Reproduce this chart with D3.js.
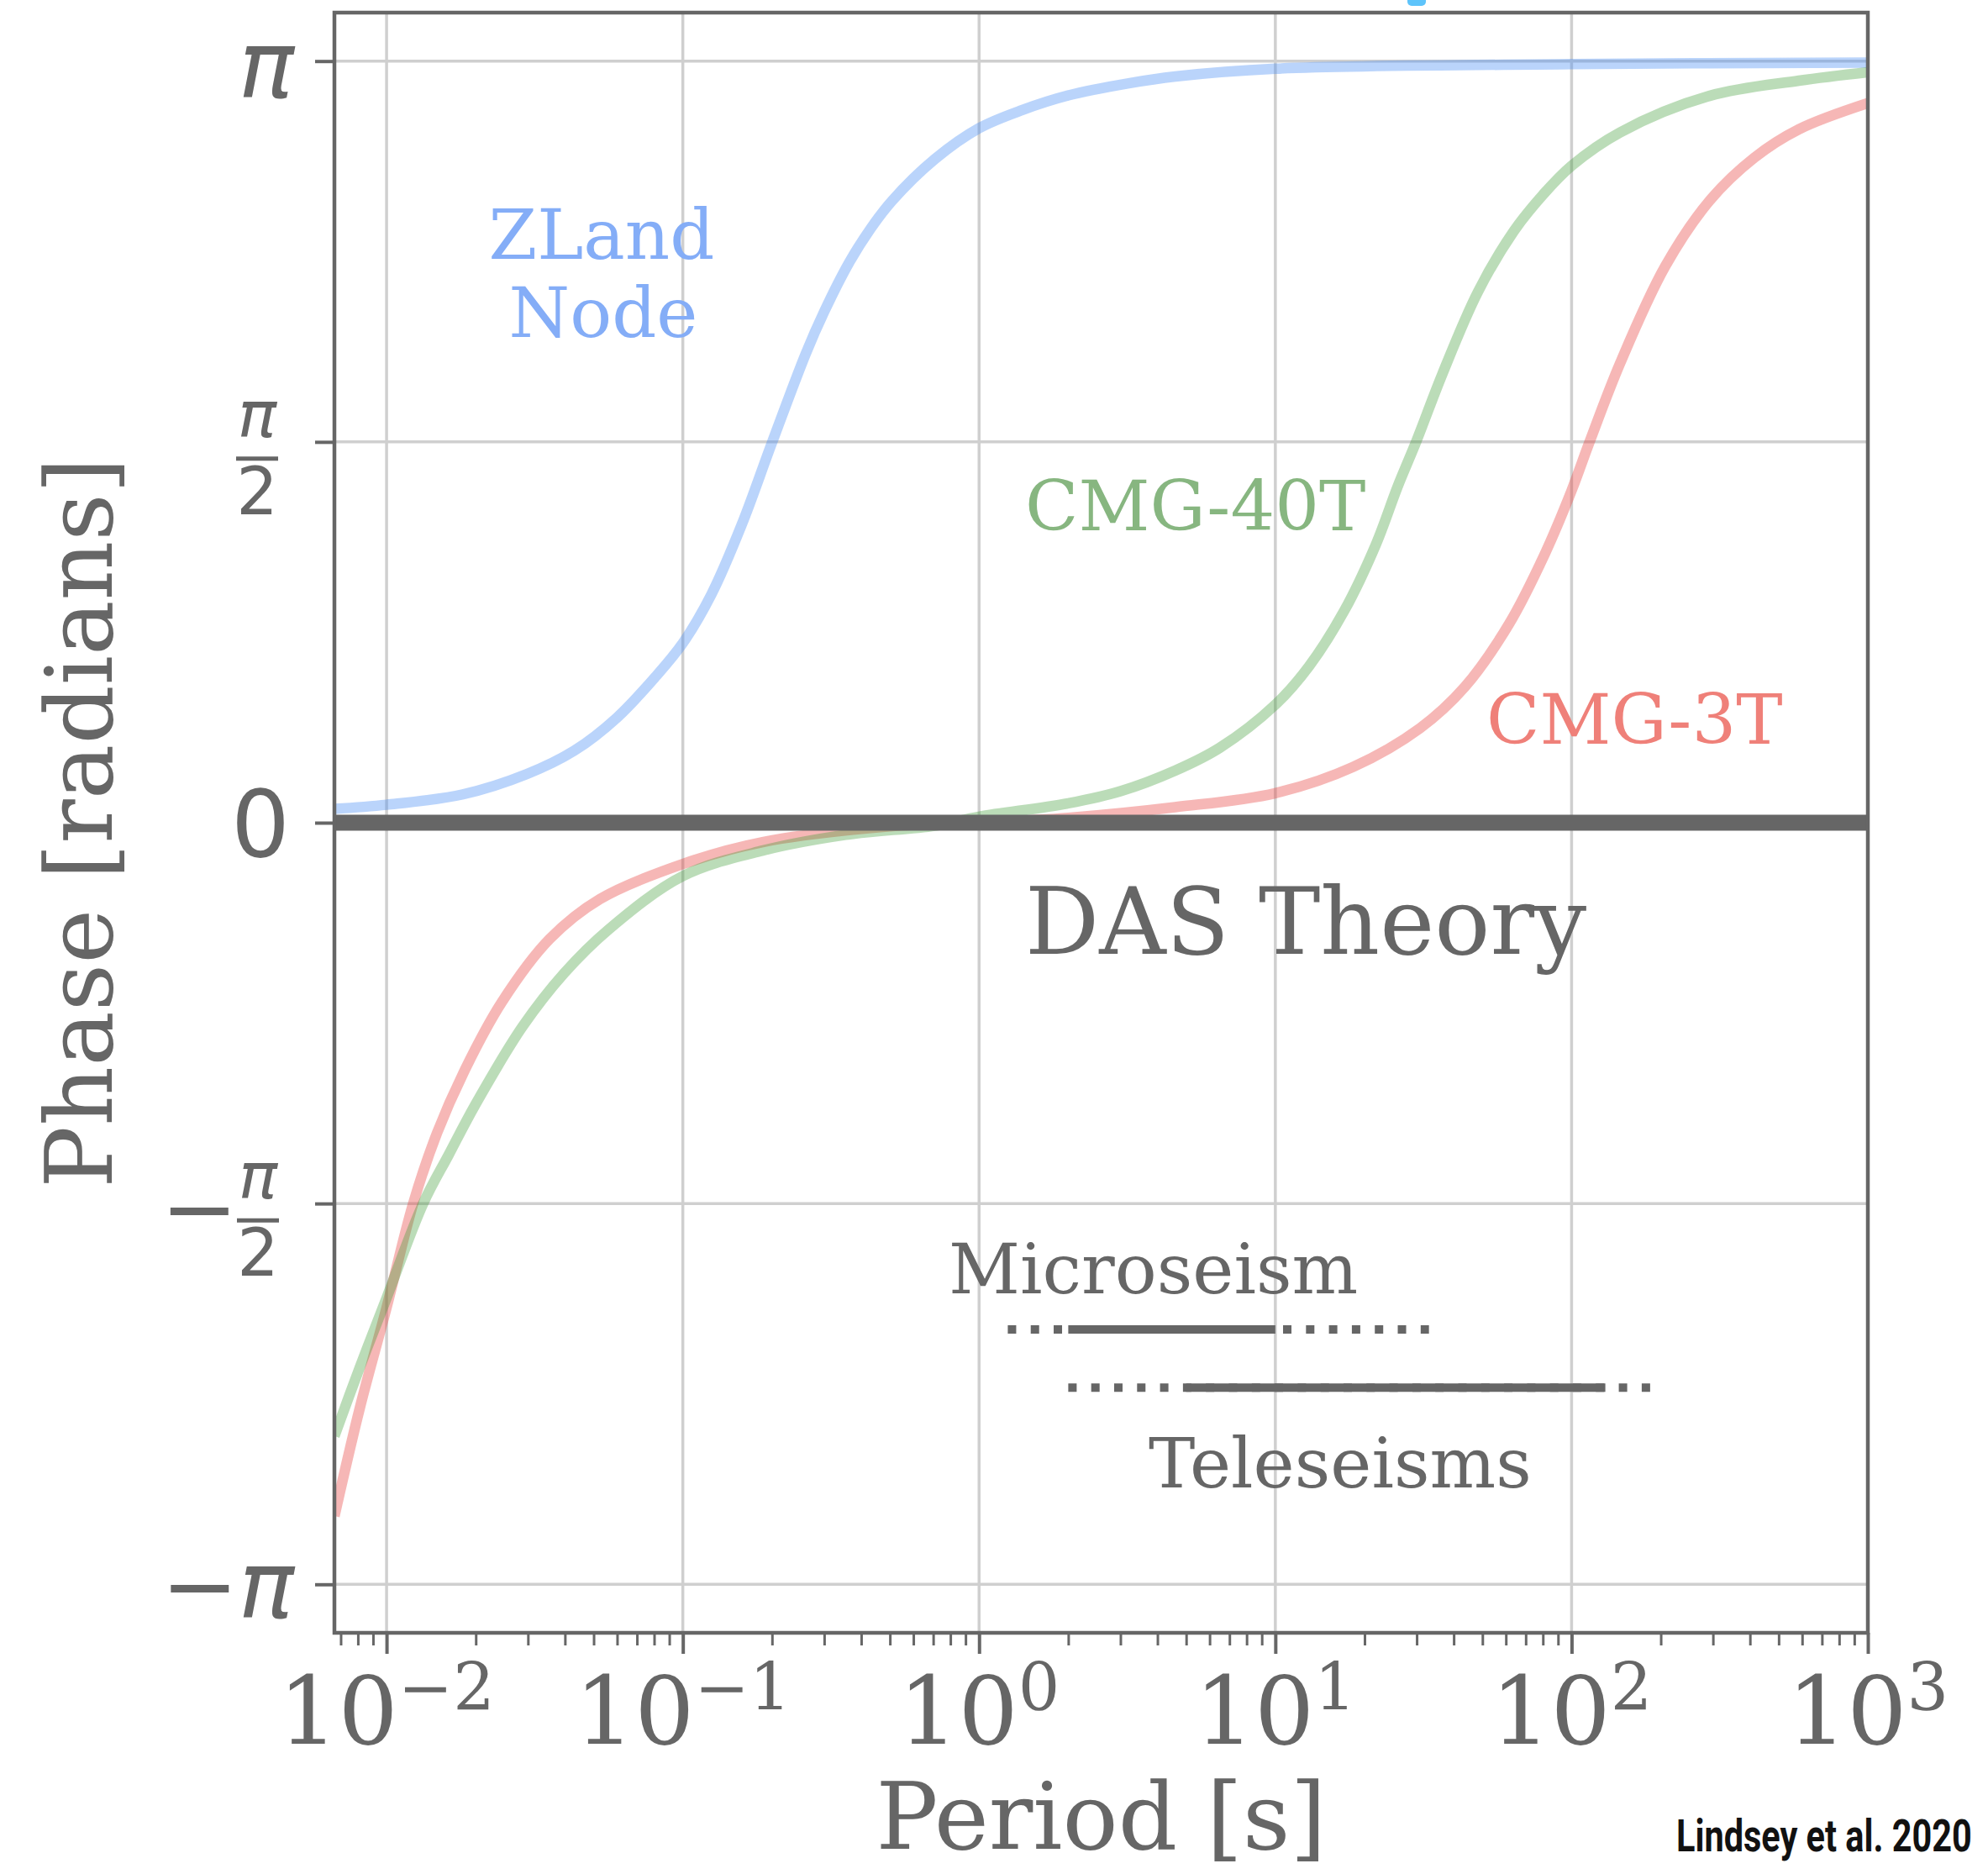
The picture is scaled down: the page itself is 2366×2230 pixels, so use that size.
<!DOCTYPE html>
<html><head><meta charset="utf-8">
<script src="https://cdn.jsdelivr.net/npm/d3@7"></script>
<style>html,body{margin:0;padding:0;background:#fff;overflow:hidden}</style>
</head><body>
<svg id="chart" width="2366" height="2230" xmlns="http://www.w3.org/2000/svg"></svg>
<script>
// ---------------- data (period in s, phase in radians) ----------------
const periodZLand = [0.00667, 0.01, 0.0181, 0.0298, 0.043, 0.06, 0.0811, 0.1, 0.125, 0.158, 0.2, 0.26, 0.3, 0.364, 0.43, 0.508, 0.71, 1.0, 1.4, 2, 3.2, 4.6, 10, 100, 1000];
const phaseZLand  = [0.057, 0.074, 0.117, 0.201, 0.297, 0.434, 0.604, 0.741, 0.943, 1.229, 1.568, 1.935, 2.108, 2.31, 2.45, 2.565, 2.738, 2.865, 2.94, 3.00, 3.05, 3.078, 3.11, 3.129, 3.135];

const period40T = [0.00667, 0.0081, 0.01, 0.0133, 0.0162, 0.02, 0.0288, 0.0398, 0.0562, 0.1, 0.186, 0.355, 0.71, 1.0, 2, 3, 4.59, 6.49, 10, 13, 17.1, 21.8, 25.9, 29.8, 36.6, 48.3, 63.8, 80, 100, 146, 292, 585, 1000];
const phase40T  = [-2.53, -2.25, -1.96, -1.57, -1.37, -1.16, -0.84, -0.62, -0.44, -0.22, -0.115, -0.05, -0.012, 0.025, 0.08, 0.13, 0.215, 0.309, 0.487, 0.646, 0.875, 1.145, 1.388, 1.568, 1.85, 2.19, 2.44, 2.59, 2.71, 2.848, 2.998, 3.061, 3.096];

const period3T = [0.00667, 0.0081, 0.01, 0.0123, 0.0148, 0.0182, 0.0245, 0.0355, 0.0525, 0.1, 0.186, 0.5, 1.0, 2, 4.59, 10, 18.3, 30.8, 43.6, 61.5, 81.3, 100, 115, 146, 207, 292, 414, 585, 1000];
const phase3T  = [-2.86, -2.42, -2.00, -1.57, -1.28, -1.03, -0.74, -0.48, -0.315, -0.17, -0.08, -0.015, 0.0, 0.02, 0.064, 0.122, 0.23, 0.39, 0.56, 0.82, 1.11, 1.37, 1.571, 1.897, 2.295, 2.565, 2.743, 2.86, 2.968];

const periodDAS = [1/150, 1000];
const phaseDAS  = [0, 0];

const microseismSolid  = [2, 10];
const microseismDotted = [1.25, 33];
const microseismPhase  = -2.09;
const teleseismSolid   = [5, 130];
const teleseismDotted  = [2, 200];
const teleseismPhase   = -2.33;

const xTickExponents = [-2, -1, 0, 1, 2, 3];
const yTickValues = [Math.PI, Math.PI / 2, 0, -Math.PI / 2, -Math.PI];
const yTickLabels = ["π", "π/2", "0", "−π/2", "−π"];

// ---------------- layout ----------------
const plot = {left: 398, right: 2223, top: 15, bottom: 1943};
const GRAY = "#666666";
const SERIF = "'DejaVu Serif', serif";
const SANS = "'DejaVu Sans', sans-serif";

const svg = d3.select("#chart");
const x = d3.scaleLog().domain([1 / 150, 1000]).range([plot.left, plot.right]);
const y = d3.scaleLinear().domain([-Math.PI - 0.2, Math.PI + 0.2]).range([plot.bottom, plot.top]);

svg.append("defs").append("clipPath").attr("id", "clip")
  .append("rect").attr("x", plot.left).attr("y", plot.top)
  .attr("width", plot.right - plot.left).attr("height", plot.bottom - plot.top);

// grid
const majorX = xTickExponents.map(e => Math.pow(10, e));
const grid = svg.append("g").attr("stroke", "#cfcfcf").attr("stroke-width", 3.5);
grid.selectAll("line.v").data(majorX).join("line")
  .attr("x1", d => x(d)).attr("x2", d => x(d)).attr("y1", plot.top).attr("y2", plot.bottom);
grid.selectAll("line.h").data(yTickValues).join("line")
  .attr("x1", plot.left).attr("x2", plot.right).attr("y1", d => y(d)).attr("y2", d => y(d));

// curves
const zip = (a, b) => a.map((v, i) => [v, b[i]]);
const line = d3.line().x(d => x(d[0])).y(d => y(d[1])).curve(d3.curveCatmullRom.alpha(0.5));
const curves = svg.append("g").attr("clip-path", "url(#clip)").attr("fill", "none").attr("stroke-width", 12.5);
curves.append("path").attr("d", line(zip(periodZLand, phaseZLand))).attr("stroke", "#4a8ef5").attr("stroke-opacity", 0.38);
curves.append("path").attr("d", line(zip(period3T, phase3T))).attr("stroke", "#e8413e").attr("stroke-opacity", 0.38);
curves.append("path").attr("d", line(zip(period40T, phase40T))).attr("stroke", "#3c9a34").attr("stroke-opacity", 0.35);

// DAS theory line
svg.append("path").attr("d", d3.line().x(d => x(d[0])).y(d => y(d[1]))(zip(periodDAS, phaseDAS)))
  .attr("stroke", GRAY).attr("stroke-width", 19).attr("fill", "none");

// period bands
const bands = svg.append("g").attr("stroke", GRAY).attr("stroke-width", 10);
function band(solid, dotted, ph) {
  bands.append("line").attr("x1", x(dotted[0])).attr("x2", x(dotted[1])).attr("y1", y(ph)).attr("y2", y(ph))
    .attr("stroke-dasharray", "10 17.3");
  bands.append("line").attr("x1", x(solid[0])).attr("x2", x(solid[1])).attr("y1", y(ph)).attr("y2", y(ph));
}
band(microseismSolid, microseismDotted, microseismPhase);
band(teleseismSolid, teleseismDotted, teleseismPhase);

// annotations
function label(txt, px, py, size, color, anchor) {
  return svg.append("text").attr("x", px).attr("y", py).attr("font-family", SERIF)
    .attr("font-size", size).attr("fill", color).attr("text-anchor", anchor || "start").text(txt);
}
label("ZLand", 716, 308, 83, "#84adf7", "middle");
label("Node", 718, 401, 83, "#84adf7", "middle");
label("CMG-40T", 1220, 631, 83, "#87b680");
label("CMG-3T", 1769, 885, 83, "#ef8079");
label("DAS Theory", 1220, 1135, 110, GRAY);
label("Microseism", 1129, 1539, 83, GRAY);
label("Teleseisms", 1367, 1770, 83, GRAY);

// spines
svg.append("rect").attr("x", plot.left).attr("y", plot.top)
  .attr("width", plot.right - plot.left).attr("height", plot.bottom - plot.top)
  .attr("fill", "none").attr("stroke", GRAY).attr("stroke-width", 4.5);

// x axis ticks
const minorX = [];
for (let e = -3; e <= 2; e++) for (let m = 2; m <= 9; m++) {
  const v = m * Math.pow(10, e);
  if (v >= 1 / 150 && v <= 1000) minorX.push(v);
}
const gx = svg.append("g").attr("transform", `translate(0,${plot.bottom})`)
  .call(d3.axisBottom(x).tickValues(majorX).tickSize(25).tickFormat(""));
const gxm = svg.append("g").attr("transform", `translate(0,${plot.bottom})`)
  .call(d3.axisBottom(x).tickValues(minorX).tickSize(15).tickFormat(""));
[gx, gxm].forEach(g => { g.select(".domain").remove(); });
gx.selectAll(".tick line").attr("stroke", GRAY).attr("stroke-width", 4);
gxm.selectAll(".tick line").attr("stroke", GRAY).attr("stroke-width", 3);

xTickExponents.forEach(e => {
  const t = svg.append("text").attr("x", x(Math.pow(10, e))).attr("y", 2075)
    .attr("text-anchor", "middle").attr("font-family", SERIF).attr("font-size", 112).attr("fill", GRAY);
  t.append("tspan").text("10");
  t.append("tspan").attr("dy", -40).attr("font-size", 78).text(e < 0 ? "−" + Math.abs(e) : String(e));
});

// y axis ticks
const gy = svg.append("g").attr("transform", `translate(${plot.left},0)`)
  .call(d3.axisLeft(y).tickValues(yTickValues).tickSize(23).tickFormat(""));
gy.select(".domain").remove();
gy.selectAll(".tick line").attr("stroke", GRAY).attr("stroke-width", 4);

function yTickLabel(v, lab) {
  const ty = y(v);
  const g = svg.append("g").attr("fill", GRAY).attr("font-family", SANS);
  const frac = (cx) => {
    g.append("text").attr("x", cx).attr("y", ty - 6).attr("text-anchor", "middle")
      .attr("font-size", 77).attr("font-style", "italic").text("π");
    g.append("line").attr("x1", cx - 25).attr("x2", cx + 25).attr("y1", ty + 20).attr("y2", ty + 20)
      .attr("stroke", GRAY).attr("stroke-width", 5);
    g.append("text").attr("x", cx).attr("y", ty + 86).attr("text-anchor", "middle")
      .attr("font-size", 78).text("2");
  };
  if (lab === "π") {
    g.append("text").attr("x", 350).attr("y", ty + 43).attr("text-anchor", "end")
      .attr("font-size", 110).attr("font-style", "italic").text("π");
  } else if (lab === "π/2") {
    frac(306);
  } else if (lab === "0") {
    g.append("text").attr("x", 345).attr("y", ty + 40).attr("text-anchor", "end")
      .attr("font-size", 110).text("0");
  } else if (lab === "−π/2") {
    g.append("text").attr("x", 237).attr("y", ty + 44).attr("text-anchor", "middle")
      .attr("font-size", 110).text("−");
    frac(307);
  } else if (lab === "−π") {
    const t = g.append("text").attr("x", 350).attr("y", ty + 40).attr("text-anchor", "end").attr("font-size", 110);
    t.append("tspan").text("−");
    t.append("tspan").attr("font-style", "italic").text("π");
  }
}
yTickValues.forEach((v, i) => yTickLabel(v, yTickLabels[i]));

// axis labels
svg.append("text").attr("x", (plot.left + plot.right) / 2).attr("y", 2200).attr("text-anchor", "middle")
  .attr("font-family", SERIF).attr("font-size", 110).attr("fill", GRAY).text("Period [s]");
svg.append("text").attr("transform", `translate(133,${y(0)}) rotate(-90)`).attr("text-anchor", "middle")
  .attr("font-family", SERIF).attr("font-size", 110).attr("fill", GRAY).text("Phase [radians]");

// citation (condensed by a horizontal scale so it fits the page) and top fragment
const cite = svg.append("text").attr("x", 0).attr("y", 0)
  .attr("font-family", "Roboto, 'Open Sans', sans-serif")
  .attr("font-weight", "bold").attr("font-size", 54).attr("fill", "#111111").text("Lindsey et al. 2020");
const natW = cite.node().getComputedTextLength();
const sx = Math.min(1, 352 / natW);
cite.attr("transform", `translate(1995,2203) scale(${sx},1)`);
svg.append("rect").attr("x", 1675).attr("y", -6).attr("width", 22).attr("height", 13).attr("rx", 5).attr("fill", "#5ec4fb");
</script>
</body></html>
